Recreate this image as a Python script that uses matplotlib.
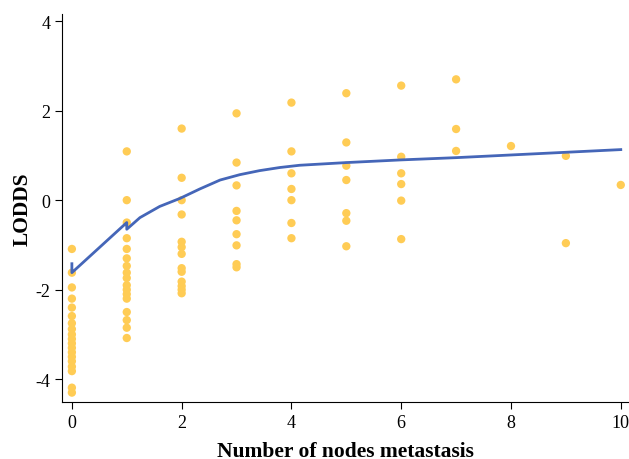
import matplotlib
matplotlib.use("Agg")
import matplotlib.pyplot as plt

plt.rcParams['font.family'] = ['Liberation Serif', 'DejaVu Serif']
plt.rcParams['axes.unicode_minus'] = False

# observed log-odds per number of metastatic nodes
x0 = [-1.09, -1.62, -1.95, -2.20, -2.40, -2.59, -2.75, -2.88, -3.0, -3.1, -3.2,
      -3.3, -3.4, -3.5, -3.6, -3.72, -3.82, -4.19, -4.30]
x1 = [1.09, 0.0, -0.50, -0.85, -1.09, -1.30, -1.47, -1.62, -1.74, -1.9, -2.0,
      -2.1, -2.2, -2.50, -2.68, -2.85, -3.08]
x2 = [1.6, 0.5, 0.0, -0.32, -0.93, -1.05, -1.2, -1.52, -1.6, -1.82, -1.92, -2.0, -2.08]
x3 = [1.94, 0.84, 0.33, -0.24, -0.45, -0.76, -1.01, -1.43, -1.5]
x4 = [2.18, 1.09, 0.60, 0.25, 0.0, -0.51, -0.85]
x5 = [2.39, 1.29, 0.77, 0.45, -0.29, -0.46, -1.03]
x6 = [2.56, 0.97, 0.60, 0.36, -0.01, -0.87]
x7 = [2.70, 1.59, 1.10]
x8 = [1.21]
x9 = [0.99, -0.96]
x10 = [0.34]
groups = [x0, x1, x2, x3, x4, x5, x6, x7, x8, x9, x10]

# smoothed fit
fit_x = [0, 0, 1, 1, 1.24, 1.6, 1.97, 2.33, 2.7, 3.06, 3.42, 3.79, 4.15,
         5, 6, 7, 8, 9, 10]
fit_y = [-1.42, -1.62, -0.5, -0.65, -0.39, -0.14, 0.04, 0.25, 0.45, 0.57, 0.66,
         0.73, 0.78, 0.84, 0.90, 0.95, 1.01, 1.07, 1.13]

fig = plt.figure(figsize=(6.29, 4.60), dpi=100)
ax = fig.add_axes([62 / 629, 57 / 460, 567 / 629, 388 / 460])

xs, ys = [], []
for n, vals in enumerate(groups):
    xs += [n] * len(vals)
    ys += vals
ax.scatter(xs, ys, s=36, color='#ffcc55', edgecolors='none', zorder=2)
ax.plot(fit_x, fit_y, color='#4566b8', lw=2, zorder=3)

ax.set_xlim(-0.18, 10.15)
ax.set_ylim(-4.51, 4.16)
ax.set_xticks([0, 2, 4, 6, 8, 10])
ax.set_yticks([-4, -2, 0, 2, 4])
ax.spines['top'].set_visible(False)
ax.spines['right'].set_visible(False)
ax.tick_params(direction='out', length=5, labelsize=13)
ax.set_xlabel('Number of nodes metastasis', fontsize=15.5, fontweight='bold', labelpad=7)
ax.set_ylabel('LODDS', fontsize=15.5, fontweight='bold', labelpad=2)

fig.savefig('out.png', dpi=100)
